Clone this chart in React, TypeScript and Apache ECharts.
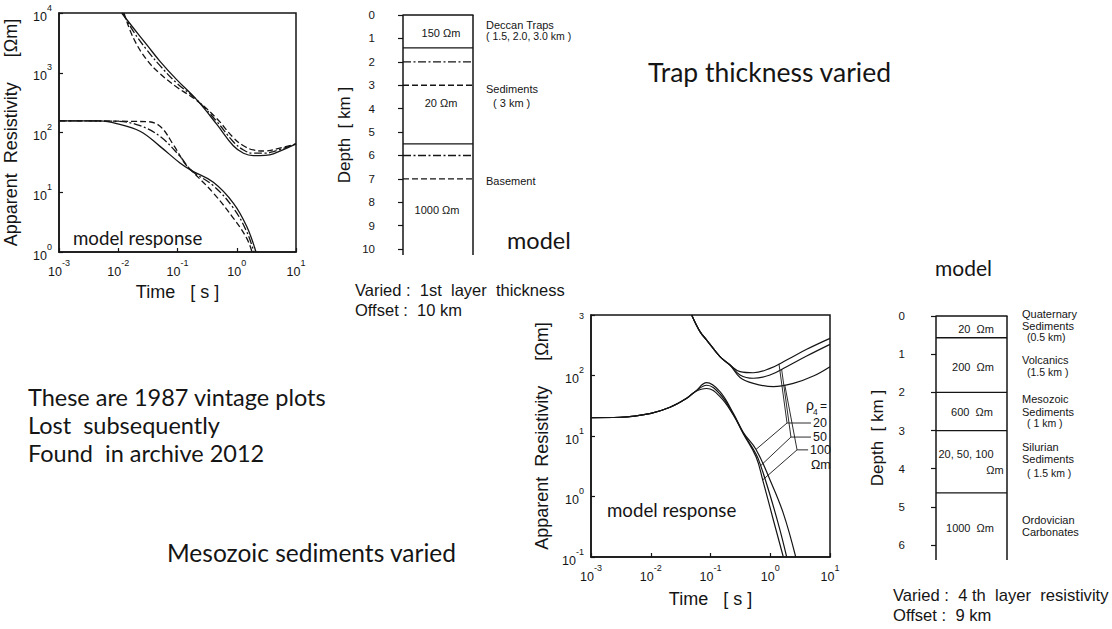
import React, { useEffect, useRef } from 'react';
import * as echarts from 'echarts';

// ---------------- Top-left chart: trap thickness varied (time [s], rho [Ωm]) ----------------
const trapUpperSolid = [[0.01143, 10000], [0.018, 5610], [0.0302, 2950], [0.0507, 1553], [0.0968, 766], [0.2104, 355], [0.458, 138], [0.875, 60], [1.3, 45], [1.905, 41], [3.0, 41.5], [4.14, 44], [10, 64.3]];
const trapUpperDashDot = [[0.01189, 10000], [0.018, 4930], [0.0302, 2430], [0.0507, 1315], [0.0968, 673], [0.2104, 355], [0.458, 154], [0.875, 70], [1.3, 51], [1.905, 45], [3.0, 45], [4.14, 48], [10, 64.3]];
const trapUpperDashed = [[0.0125, 10000], [0.018, 3820], [0.0302, 1655], [0.0507, 966], [0.0968, 577], [0.2104, 345], [0.458, 172], [0.875, 82], [1.3, 60], [1.905, 51], [3.0, 49], [4.14, 51.5], [10, 64.3]];
const trapLowerSolid = [[0.001, 157], [0.00492, 156], [0.0094, 141], [0.0233, 105], [0.0507, 58.6], [0.11, 30.9], [0.173, 23], [0.403, 14.7], [0.875, 6.6], [1.47, 2.69], [2.11, 1]];
const trapLowerDashDot = [[0.001, 157], [0.0094, 154], [0.0233, 130], [0.0507, 86], [0.11, 40], [0.173, 23], [0.403, 12.9], [0.875, 5.45], [1.47, 2.2], [1.95, 1]];
const trapLowerDashed = [[0.001, 157], [0.0302, 152], [0.0507, 127], [0.0851, 62.5], [0.134, 30], [0.173, 23], [0.403, 9.7], [0.875, 3.7], [1.47, 1.71], [1.81, 1]];

// ---------------- Bottom chart: 4th layer resistivity varied ----------------
const mesoUpperCommon = [[0.0484, 1000], [0.0667, 531], [0.0863, 386], [0.144, 205], [0.212, 149]];
const mesoUpper20 = [[0.312, 116], [0.521, 111], [0.991, 131], [1.88, 180], [4.07, 271], [10, 411]];
const mesoUpper50 = [[0.312, 102], [0.521, 90], [0.991, 102], [1.88, 140], [4.07, 210], [10, 327]];
const mesoUpper100 = [[0.312, 93], [0.521, 74], [1.127, 65.3], [2.43, 74], [5.26, 98], [10, 140]];
const mesoLowerCommon = [[0.001, 20.1], [0.00305, 20.4], [0.0101, 23.7], [0.021, 29.8], [0.0399, 42], [0.0551, 54]];
const mesoLower20 = [[0.0863, 76], [0.144, 54], [0.241, 23.7], [0.355, 11.4], [0.578, 6.0], [0.991, 1.88], [1.656, 0.527], [2.67, 0.1]];
const mesoLower50 = [[0.0863, 69], [0.144, 49.4], [0.241, 22.8], [0.355, 11.1], [0.578, 5.04], [0.692, 3.24], [0.991, 1.06], [1.456, 0.279], [1.884, 0.1]];
const mesoLower100 = [[0.0863, 61], [0.144, 44.7], [0.241, 22.2], [0.355, 10.8], [0.578, 4.55], [0.747, 1.88], [1.127, 0.409], [1.656, 0.1]];
const rho4Labels = ['20', '50', '100'];
const leaderUpper = [[1.40, 156], [1.55, 127], [1.75, 70]];
const leaderKink = [[1.91, 16.4], [2.22, 9.6], [2.81, 5.9]];
const leaderLower = [[0.578, 6.0], [0.692, 3.24], [0.747, 1.88]];
const leaderEndT = [4.8, 4.8, 4.3];

// ---------------- Model columns ----------------
const trapModelBoundaries = [1.4, 2.0, 3.0, 5.5, 6.0, 7.0];
const trapModelStyles = ['solid', 'dashdot', 'dashed', 'solid', 'dashdot', 'dashed'];
const trapModelBottom = 10.25;
const trapModelTicks = [0, 1, 2, 3, 4, 5, 6, 7, 8, 9, 10];
const mesoModelBoundaries = [0.57, 2.0, 3.0, 4.63];
const mesoModelBottom = 6.39;
const mesoModelTicks = [0, 1, 2, 3, 4, 5, 6];

const INK = '#151515';
const SCAN = "'Liberation Sans', Arial, sans-serif";
const SLIDE = "Lato, 'Noto Sans', sans-serif";
const DASH: Record<string, any> = { solid: 'solid', dashdot: [8, 2.5, 2, 2.5], dashed: [6, 3] };

const rich = {
  b: { fontSize: 12.5, fontFamily: SCAN, color: INK, lineHeight: 20, verticalAlign: 'bottom' },
  s: { fontSize: 9, fontFamily: SCAN, color: INK, lineHeight: 8, verticalAlign: 'top' },
};

function logAxis(gridIndex: number, min: number, max: number, name: string, nameGap: number, isY: boolean, onlyExpAt?: number) {
  return {
    type: 'log', logBase: 10, gridIndex, min, max,
    name, nameLocation: 'middle', nameGap, nameRotate: isY ? 90 : 0,
    nameTextStyle: { fontFamily: SCAN, fontSize: 18, color: INK },
    axisLine: { show: true, onZero: false, lineStyle: { color: INK, width: 1.5 } },
    axisTick: { show: true, inside: true, length: 4, lineStyle: { color: INK, width: 1.2 } },
    minorTick: { show: false }, splitLine: { show: false }, minorSplitLine: { show: false },
    axisLabel: {
      margin: isY ? 7 : 6, showMinLabel: true, showMaxLabel: true,
      formatter: (v: number) => {
        const e = Math.round(Math.log10(v));
        if (onlyExpAt !== undefined && e === onlyExpAt) return `{s|${e}}`;
        return `{b|10}{s|${e}}`;
      },
      rich,
    },
  };
}

function depthAxis(gridIndex: number, max: number, ticks: number[], nameGap: number, margin: number) {
  return {
    type: 'value', gridIndex, min: 0, max, inverse: true, position: 'left', offset: 18,
    name: 'Depth\u00A0\u00A0[\u00A0km\u00A0]', nameLocation: 'middle', nameGap, nameRotate: 90,
    nameTextStyle: { fontFamily: SCAN, fontSize: 17, color: INK },
    axisLine: { show: false },
    axisTick: { show: true, length: 5, customValues: ticks, lineStyle: { color: INK, width: 1.2 } },
    axisLabel: { customValues: ticks, margin, fontFamily: SCAN, fontSize: 11.5, color: INK },
    splitLine: { show: false },
  };
}

function topEdgeAxis(gridIndex: number) {
  return {
    type: 'value', gridIndex, min: 0, max: 1, position: 'top',
    axisLine: { show: true, lineStyle: { color: INK, width: 1.5 } },
    axisTick: { show: false }, axisLabel: { show: false }, splitLine: { show: false },
  };
}

const curve = (data: number[][], axis: number, style: string, width = 1.3) => ({
  type: 'line', xAxisIndex: axis, yAxisIndex: axis, data, symbol: 'none', showSymbol: false,
  smooth: 0.4, silent: true, lineStyle: { color: INK, width, type: DASH[style] },
});
const straight = (data: number[][], axis: number, style: string, width: number, extra: any = {}) => ({
  type: 'line', xAxisIndex: axis, yAxisIndex: axis, data, symbol: 'none', showSymbol: false,
  smooth: false, silent: true, clip: false, lineStyle: { color: INK, width, type: DASH[style] }, ...extra,
});

function txt(x: number, y: number, text: string, size: number, family: string, align = 'left') {
  return {
    type: 'text', x, y, silent: true,
    style: { text, fill: INK, font: `${size}px ${family}`, textAlign: align, textVerticalAlign: 'middle', align, verticalAlign: 'middle' },
  };
}

function buildOption() {
  const series: any[] = [];
  series.push(curve(trapUpperSolid, 0, 'solid'), curve(trapUpperDashDot, 0, 'dashdot'), curve(trapUpperDashed, 0, 'dashed'));
  series.push(curve(trapLowerSolid, 0, 'solid'), curve(trapLowerDashDot, 0, 'dashdot'), curve(trapLowerDashed, 0, 'dashed'));
  const ups = [mesoUpper20, mesoUpper50, mesoUpper100];
  const lows = [mesoLower20, mesoLower50, mesoLower100];
  ups.forEach((u) => series.push(curve([...mesoUpperCommon, ...u], 1, 'solid', 1.2)));
  lows.forEach((l) => series.push(curve([...mesoLowerCommon, ...l], 1, 'solid', 1.2)));
  rho4Labels.forEach((lab, i) => {
    series.push(straight([leaderUpper[i], leaderKink[i], leaderLower[i]], 1, 'solid', 0.9));
    series.push(straight([leaderKink[i], [leaderEndT[i], leaderKink[i][1]]], 1, 'solid', 0.9, {
      endLabel: { show: true, formatter: lab, distance: 2, fontFamily: SCAN, fontSize: 12.5, color: INK },
    }));
  });
  const modelSeries = (axis: number, bounds: number[], styles: string[] | null, bottom: number) => {
    series.push(straight([[0, 0], [0, bottom]], axis, 'solid', 1.5));
    series.push(straight([[1, 0], [1, bottom]], axis, 'solid', 1.5));
    bounds.forEach((d, i) => series.push(straight([[0, d], [1, d]], axis, styles ? styles[i] : 'solid', 1.3)));
  };
  modelSeries(2, trapModelBoundaries, trapModelStyles, trapModelBottom);
  modelSeries(3, mesoModelBoundaries, null, mesoModelBottom);

  const resName = 'Apparent\u00A0\u00A0Resistivity\u00A0\u00A0\u00A0\u00A0\u00A0[Ωm]';
  const timeName = 'Time\u00A0\u00A0\u00A0[\u00A0s\u00A0]';

  return {
    animation: false,
    backgroundColor: '#ffffff',
    grid: [
      { left: 59, top: 13, width: 237, height: 239, show: true, borderColor: INK, borderWidth: 1.5, backgroundColor: 'transparent' },
      { left: 591, top: 315, width: 239, height: 242, show: true, borderColor: INK, borderWidth: 1.5, backgroundColor: 'transparent' },
      { left: 403, top: 15, width: 70, height: 240 },
      { left: 936, top: 316, width: 71, height: 244 },
    ],
    xAxis: [
      logAxis(0, 0.001, 10, timeName, 31, false),
      logAxis(1, 0.001, 10, timeName, 33, false),
      topEdgeAxis(2),
      topEdgeAxis(3),
    ],
    yAxis: [
      logAxis(0, 1, 10000, resName, 39, true),
      logAxis(1, 0.1, 1000, resName, 40, true, 3),
      depthAxis(2, trapModelBottom, trapModelTicks, 32, 10),
      depthAxis(3, mesoModelBottom, mesoModelTicks, 32, 13),
    ],
    series,
    graphic: {
      elements: [
        txt(648, 72, 'Trap thickness varied', 26.5, SLIDE),
        txt(507, 240, 'model', 23.5, SLIDE),
        txt(935, 267, 'model', 21, SLIDE),
        txt(28, 397, 'These are 1987 vintage plots', 23.5, SLIDE),
        txt(28, 425, 'Lost  subsequently', 23.5, SLIDE),
        txt(28, 453, 'Found  in archive 2012', 23.5, SLIDE),
        txt(167, 552, 'Mesozoic sediments varied', 24.5, SLIDE),
        txt(73, 238, 'model response', 18.7, SLIDE),
        txt(607, 510, 'model response', 18.7, SLIDE),
        // top model
        txt(441, 33, '150 Ωm', 11, SCAN, 'center'),
        txt(441, 103, '20 Ωm', 11, SCAN, 'center'),
        txt(437, 210, '1000 Ωm', 11, SCAN, 'center'),
        txt(486, 25, 'Deccan Traps', 11, SCAN),
        txt(486, 36, '( 1.5, 2.0, 3.0 km )', 10.5, SCAN),
        txt(486, 89, 'Sediments', 11, SCAN),
        txt(493, 103, '( 3 km )', 11, SCAN),
        txt(486, 181, 'Basement', 11, SCAN),
        txt(355, 290, 'Varied :  1st  layer  thickness', 16.5, SCAN),
        txt(355, 310, 'Offset :  10 km', 16.5, SCAN),
        // bottom model
        txt(976, 329, '20  Ωm', 11, SCAN, 'center'),
        txt(973, 367, '200  Ωm', 11, SCAN, 'center'),
        txt(972, 412, '600  Ωm', 11, SCAN, 'center'),
        txt(966, 454, '20, 50, 100', 11, SCAN, 'center'),
        txt(995, 470, 'Ωm', 11, SCAN, 'center'),
        txt(970, 528, '1000  Ωm', 11, SCAN, 'center'),
        txt(1022, 314, 'Quaternary', 11, SCAN),
        txt(1022, 326, 'Sediments', 11, SCAN),
        txt(1027, 337, '(0.5 km)', 10.5, SCAN),
        txt(1022, 360, 'Volcanics', 11, SCAN),
        txt(1027, 372, '(1.5 km )', 10.5, SCAN),
        txt(1022, 399, 'Mesozoic', 11, SCAN),
        txt(1022, 412, 'Sediments', 11, SCAN),
        txt(1027, 423, '( 1 km )', 10.5, SCAN),
        txt(1022, 447, 'Silurian', 11, SCAN),
        txt(1022, 459, 'Sediments', 11, SCAN),
        txt(1027, 473, '( 1.5 km )', 10.5, SCAN),
        txt(1022, 520, 'Ordovician', 11, SCAN),
        txt(1022, 532, 'Carbonates', 11, SCAN),
        txt(893, 595, 'Varied :  4 th  layer  resistivity', 16.6, SCAN),
        txt(893, 615, 'Offset :  9 km', 16.6, SCAN),
        // bottom chart legend
        txt(806, 405, 'ρ', 14, SCAN),
        txt(813, 412, '4', 8.5, SCAN),
        txt(820, 406, '=', 12, SCAN),
        txt(811, 465, 'Ωm', 12.5, SCAN),
      ],
    },
  };
}

export default function App() {
  const ref = useRef<HTMLDivElement>(null);
  useEffect(() => {
    if (!ref.current) return;
    const chart = echarts.init(ref.current, undefined, { renderer: 'svg' });
    chart.setOption(buildOption() as any);
    return () => chart.dispose();
  }, []);
  return <div ref={ref} style={{ position: 'absolute', left: 0, top: 0, width: 1112, height: 629, background: '#fff' }} />;
}
